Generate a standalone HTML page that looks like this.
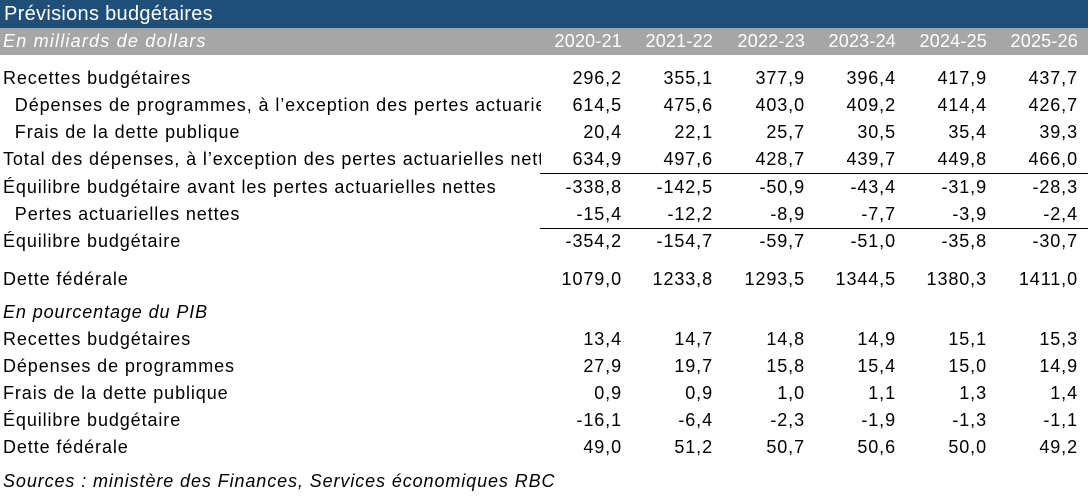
<!DOCTYPE html>
<html><head><meta charset="utf-8"><style>
*{margin:0;padding:0}
body{width:1088px;height:500px;background:#fff;font-family:"Liberation Sans",sans-serif;position:relative;overflow:hidden;color:#000}
.t{position:absolute;left:0;top:0;width:1088px;height:28px;background:#1f4e79;color:#fff;font-size:20px;line-height:28px;padding-left:4px;box-sizing:border-box;letter-spacing:0.3px}
.g{position:absolute;left:0;top:28px;width:1088px;height:27px;background:#a6a6a6;color:#fff;font-size:17.5px;line-height:27px}
.g .l{letter-spacing:1.2px}
.r{position:absolute;left:0;width:1088px;height:27px;font-size:18px;line-height:27px}
.l{position:absolute;left:3px;width:538px;overflow:hidden;white-space:nowrap;letter-spacing:0.9px}
.v{position:absolute;text-align:right;width:100px;letter-spacing:0.9px}
.g .v{letter-spacing:0.2px}
.i{font-style:italic}
.hr{position:absolute;left:540px;width:548px;height:1px;background:#000}
</style></head><body>
<div class="t">Prévisions budgétaires</div>
<div class="g r" style="top:28px"><span class="l i">En milliards de dollars</span>
<span class="v" style="left:522px">2020-21</span><span class="v" style="left:613px">2021-22</span><span class="v" style="left:705px">2022-23</span><span class="v" style="left:796px">2023-24</span><span class="v" style="left:887px">2024-25</span><span class="v" style="left:978px">2025-26</span></div>
<div id="rows"></div>
<div class="hr" style="top:173px"></div>
<div class="hr" style="top:228px"></div>
<script>
var rows=[
[65,"Recettes budgétaires",["296,2","355,1","377,9","396,4","417,9","437,7"]],
[92,"\u00a0\u00a0Dépenses de programmes, à l’exception des pertes actuarielles nettes",["614,5","475,6","403,0","409,2","414,4","426,7"]],
[119,"\u00a0\u00a0Frais de la dette publique",["20,4","22,1","25,7","30,5","35,4","39,3"]],
[146,"Total des dépenses, à l’exception des pertes actuarielles nettes",["634,9","497,6","428,7","439,7","449,8","466,0"]],
[174,"Équilibre budgétaire avant les pertes actuarielles nettes",["-338,8","-142,5","-50,9","-43,4","-31,9","-28,3"]],
[201,"\u00a0\u00a0Pertes actuarielles nettes",["-15,4","-12,2","-8,9","-7,7","-3,9","-2,4"]],
[228,"Équilibre budgétaire",["-354,2","-154,7","-59,7","-51,0","-35,8","-30,7"]],
[266,"Dette fédérale",["1079,0","1233,8","1293,5","1344,5","1380,3","1411,0"]],
[299,"<i>En pourcentage du PIB</i>",[]],
[326,"Recettes budgétaires",["13,4","14,7","14,8","14,9","15,1","15,3"]],
[353,"Dépenses de programmes",["27,9","19,7","15,8","15,4","15,0","14,9"]],
[380,"Frais de la dette publique",["0,9","0,9","1,0","1,1","1,3","1,4"]],
[407,"Équilibre budgétaire",["-16,1","-6,4","-2,3","-1,9","-1,3","-1,1"]],
[434,"Dette fédérale",["49,0","51,2","50,7","50,6","50,0","49,2"]],
[468,"<i>Sources : ministère des Finances, Services économiques RBC</i>",[]]];
var L=[522,613,705,796,887,978],h="";
rows.forEach(function(r){h+='<div class="r" style="top:'+r[0]+'px"><span class="l"'+(r[2].length?'':' style="width:1000px"')+'>'+r[1]+'</span>';
r[2].forEach(function(v,i){h+='<span class="v" style="left:'+L[i]+'px">'+v+'</span>'});h+='</div>'});
document.getElementById('rows').innerHTML=h;
</script>
</body></html>
